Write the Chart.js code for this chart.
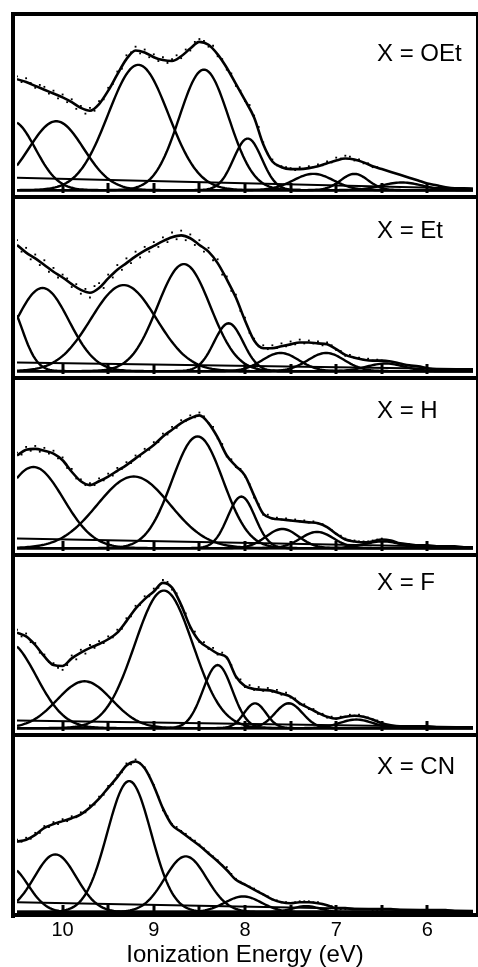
<!DOCTYPE html>
<html><head><meta charset="utf-8">
<script src="https://cdn.jsdelivr.net/npm/chart.js"></script>
<style>
html,body{margin:0;padding:0;background:#fff;width:478px;height:967px;overflow:hidden;}
#wrap{position:relative;width:478px;height:967px;}
#wrap canvas{position:absolute;}
.ln{position:absolute;background:#000;z-index:5;}
.lbl{position:absolute;font-family:"Liberation Sans",Arial,Helvetica,sans-serif;font-size:24px;line-height:24px;color:#000;white-space:nowrap;z-index:6;}
</style></head><body><div id="wrap"></div>
<script>
// ---------------- DATA ----------------
const panelLabels = ['X = OEt', 'X = Et', 'X = H', 'X = F', 'X = CN'];
const tickLabels = [10, 9, 8, 7, 6];
const minorTicks = [10, 9.5, 9, 8.5, 8, 7.5, 7, 6.5, 6];
const axisTitle = 'Ionization Energy (eV)';

// energy grid of the fitted envelope (eV)
const fitEnergies = [10.5,10.4,10.3,10.2,10.1,10.0,9.9,9.8,9.7,9.6,9.5,9.4,9.3,9.2,9.1,9.0,8.9,8.8,8.7,8.6,8.5,8.4,8.3,8.2,8.1,8.0,7.9,7.8,7.7,7.6,7.5,7.4,7.3,7.2,7.1,7.0,6.9,6.8,6.7,6.6,6.5,6.4,6.3,6.2,6.1,6.0,5.9,5.8,5.7,5.6,5.5];
// energy grid of the measured points (eV)
const dotEnergies = [10.5,10.45,10.4,10.35,10.3,10.25,10.2,10.15,10.1,10.05,10.0,9.95,9.9,9.85,9.8,9.75,9.7,9.65,9.6,9.55,9.5,9.45,9.4,9.35,9.3,9.25,9.2,9.15,9.1,9.05,9.0,8.95,8.9,8.85,8.8,8.75,8.7,8.65,8.6,8.55,8.5,8.45,8.4,8.35,8.3,8.25,8.2,8.15,8.1,8.05,8.0,7.95,7.9,7.85,7.8,7.75,7.7,7.65,7.6,7.55,7.5,7.45,7.4,7.35,7.3,7.25,7.2,7.15,7.1,7.05,7.0,6.95,6.9,6.85,6.8,6.75,6.7,6.65,6.6,6.55,6.5];

// fitted envelopes (intensity, arb. units)
const fitOEt = [116,113,109,105,101,97,92,86,83,90,104,121,137,146,144,139,136,135,140,148,155,152,142,128,111,94,76,48,30,24,22,22,23,25,28,31,33,32,29,25,22,19,16,13,10,7,5,3,2,2,1.5];
const fitEt  = [132,124,118,111,104,98,91,85,82,87,97,106,113,120,126,131,136,140,142,139,132,125,113,96,77,53,32,24,24,26,28,30,30,29,28,23,17,14,12,11,11,10,8,6,5,3,2,2,2,2,2];
const fitH   = [97,103,104,102,99,92,80,70,66,70,75,81,87,94,101,108,117,124,131,136,139,131,116,97,86,76,55,36,31,30,29,28,27,26,22,15,9,7,6,7,9,8,5,4,3,3,2,2,2,1,1];
const fitF   = [100,96,87,75,66,65,73,79,84,88,93,100,112,125,135,143,152,147,129,106,91,84,78,74,54,44,41,40,39,36,33,26,21,16,12,10,12,13,12,9,5,3,2,2,2,2,1,1,1,1,1];
const fitCN  = [72,74,79,86,90,93,96,100,107,116,127,138,150,154,147,129,106,89,82,75,68,60,52,43,33,28,23,18,13,10,9,10,10,9,7,4,4,3,3,3,3,3,2,2,2,2,2,2,1,1,1];

// measured points
const dotsOEt = [119,113,117,112,107,110,108,101,104,96,100,92,95,85,88,80,86,83,93,95,107,111,124,127,141,144,150,143,147,139,142,135,139,133,137,141,138,147,146,155,158,156,150,151,140,137,126,122,109,104,93,89,78,66,50,38,32,26,25,24,23,21,24,22,25,24,27,26,30,29,34,33,36,35,31,32,28,28,24,24,22];
const dotsEt  = [137,125,129,117,122,111,116,104,108,98,101,97,88,91,81,86,77,89,92,87,101,98,111,106,118,113,125,119,130,125,135,130,140,135,145,138,147,137,143,132,137,125,129,116,117,101,99,84,80,63,56,40,34,26,27,23,27,24,29,26,31,28,33,29,32,29,31,27,30,27,22,21,16,17,14,14,12,13,11,12,11];
const dotsH   = [100,98,106,102,107,101,105,99,102,94,95,84,83,73,72,66,68,66,73,71,78,76,84,83,90,89,97,96,104,103,111,111,120,119,127,126,134,133,139,137,142,138,131,127,115,109,96,93,85,83,75,67,53,46,35,35,31,32,30,31,29,30,28,29,27,28,26,25,22,19,15,13,10,8,8,7,7,7,8,9,10];
const dotsF   = [103,96,99,90,89,79,77,69,68,63,61,66,76,72,82,78,87,84,91,89,96,95,103,104,115,117,128,129,138,138,146,147,155,153,145,141,128,120,105,101,90,90,83,84,77,79,73,66,53,51,43,45,40,43,39,42,38,40,35,37,32,31,25,25,20,20,15,15,11,12,10,12,12,14,13,14,12,11,9,8,5];
const dotsCN  = [74,72,76,75,81,81,88,87,92,90,95,93,98,97,102,102,109,110,118,120,129,131,140,143,152,151,156,152,148,140,130,118,104,98,90,87,83,80,76,73,69,65,61,57,53,48,46,39,34,31,28,26,24,21,18,16,13,12,10,10,9,10,11,11,11,10,10,8,7,6,4,3,3,3,3,3,3,3,2,2,2];

// Gaussian fit components: centre (eV), height, width sigma (eV)
const centersOEt = [10.55, 10.07, 9.17, 8.45, 7.97, 7.25, 6.80, 6.28];
const heightsOEt = [72, 72, 131, 126, 54, 17, 17, 8];
const widthsOEt  = [0.25, 0.30, 0.33, 0.27, 0.155, 0.22, 0.15, 0.22];
const centersEt  = [10.62, 10.22, 9.33, 8.67, 8.18, 7.61, 7.11, 6.46];
const heightsEt  = [75, 87, 90, 112, 50, 19, 19, 8];
const widthsEt   = [0.17, 0.29, 0.36, 0.29, 0.16, 0.20, 0.20, 0.20];
const centersH   = [10.32, 9.22, 8.52, 8.04, 7.59, 7.21, 6.49];
const heightsH   = [85, 75, 117, 54, 20, 17, 7];
const widthsH    = [0.33, 0.40, 0.28, 0.15, 0.18, 0.18, 0.20];
const centersF   = [10.60, 9.76, 8.89, 8.30, 7.89, 7.52, 6.78];
const heightsF   = [90, 49, 144, 66, 26, 26, 9];
const widthsF    = [0.31, 0.30, 0.32, 0.16, 0.12, 0.15, 0.18];
const centersCN  = [10.58, 10.08, 9.27, 8.65, 8.02, 7.33];
const heightsCN  = [46, 59, 134, 57, 16, 6];
const widthsCN   = [0.20, 0.23, 0.24, 0.23, 0.20, 0.15];

// linear background: value at 10.5 eV and at 5.5 eV
const baseOEt = [13, 1.5];
const baseEt  = [9, 2];
const baseH   = [10, 1];
const baseF   = [8, 1];
const baseCN  = [10, 1];

// ---------------- LAYOUT ----------------
const FONT = '"Liberation Sans", Arial, Helvetica, sans-serif';
const panels = [
  {label: panelLabels[0], top: 14,  h: 183, labelTop: 41,  fit: fitOEt, dots: dotsOEt, c: centersOEt, a: heightsOEt, s: widthsOEt, base: baseOEt},
  {label: panelLabels[1], top: 197, h: 181, labelTop: 218, fit: fitEt,  dots: dotsEt,  c: centersEt,  a: heightsEt,  s: widthsEt,  base: baseEt},
  {label: panelLabels[2], top: 378, h: 177, labelTop: 398, fit: fitH,   dots: dotsH,   c: centersH,   a: heightsH,   s: widthsH,   base: baseH},
  {label: panelLabels[3], top: 555, h: 180, labelTop: 570, fit: fitF,   dots: dotsF,   c: centersF,   a: heightsF,   s: widthsF,   base: baseF},
  {label: panelLabels[4], top: 735, h: 180, labelTop: 754, fit: fitCN,  dots: dotsCN,  c: centersCN,  a: heightsCN,  s: widthsCN,  base: baseCN}
];
const AXIS_H = 52;
const wrap = document.getElementById('wrap');

function addLine(l, t, w, h) {
  const d = document.createElement('div');
  d.className = 'ln';
  d.style.cssText = `left:${l}px;top:${t}px;width:${w}px;height:${h}px;`;
  wrap.appendChild(d);
}
addLine(11, 12, 467, 4);      // top
addLine(11, 12, 4, 906);      // left
addLine(476, 12, 2, 905);     // right
[197, 378, 555, 735, 915].forEach(y => addLine(11, y - 2, 467, 4));

const innerTicks = {
  id: 'innerTicks',
  afterDatasetsDraw(chart) {
    const {ctx, chartArea, scales} = chart;
    const x = scales.x;
    ctx.save();
    ctx.strokeStyle = '#000';
    ctx.lineWidth = 3;
    minorTicks.forEach(v => {
      const px = Math.round(x.getPixelForValue(v));
      ctx.beginPath();
      ctx.moveTo(px, chartArea.bottom);
      ctx.lineTo(px, chartArea.bottom - 10);
      ctx.stroke();
    });
    ctx.restore();
  }
};

function gauss(c, a, s) {
  const pts = [];
  for (let i = 0; i <= 250; i++) {
    const e = 10.5 - i * 0.02;
    pts.push({x: e, y: a * Math.exp(-(e - c) * (e - c) / (2 * s * s))});
  }
  return pts;
}

panels.forEach((p, idx) => {
  const last = idx === panels.length - 1;
  const cv = document.createElement('canvas');
  const ch = last ? p.h + AXIS_H : p.h;
  cv.width = 464; cv.height = ch;
  cv.style.cssText = `left:13px;top:${p.top}px;width:464px;height:${ch}px;`;
  wrap.appendChild(cv);

  const lw = 2.4;
  const datasets = [];
  datasets.push({data: [{x: 10.5, y: p.base[0]}, {x: 5.5, y: p.base[1]}], borderColor: '#000', borderWidth: 2, pointRadius: 0, fill: false});
  p.c.forEach((c, k) => {
    datasets.push({data: gauss(c, p.a[k], p.s[k]), borderColor: '#000', borderWidth: lw, pointRadius: 0, fill: false, tension: 0});
  });
  datasets.push({data: fitEnergies.map((e, k) => ({x: e, y: p.fit[k]})), borderColor: '#000', borderWidth: 2.6, pointRadius: 0, fill: false, cubicInterpolationMode: 'monotone'});
  datasets.push({data: dotEnergies.map((e, k) => ({x: e, y: p.dots[k]})), showLine: false, pointRadius: 1.3, pointStyle: 'rect', pointBackgroundColor: '#000', pointBorderWidth: 0, borderColor: '#000'});

  const xScale = {
    type: 'linear', reverse: true, min: 5.5, max: 10.5, display: last,
    grid: {display: false, drawTicks: false},
    border: {display: false},
    afterBuildTicks: sc => { sc.ticks = tickLabels.map(v => ({value: v})); },
    ticks: {color: '#000', padding: 3, maxRotation: 0, autoSkip: false, font: {family: FONT, size: 20, lineHeight: 1.2}},
    title: {display: true, text: axisTitle, color: '#000', padding: 0, font: {family: FONT, size: 24, lineHeight: 1}}
  };
  if (last) xScale.afterFit = sc => { sc.height = AXIS_H; };

  new Chart(cv, {
    type: 'line',
    data: {datasets},
    options: {
      responsive: false, animation: false, events: [], devicePixelRatio: 1,
      layout: {padding: 0},
      plugins: {legend: {display: false}, tooltip: {enabled: false}},
      scales: {
        x: xScale,
        y: {min: -3, max: p.h - 3, display: false}
      }
    },
    plugins: [innerTicks]
  });

  const lb = document.createElement('div');
  lb.className = 'lbl';
  lb.style.left = '377px';
  lb.style.top = p.labelTop + 'px';
  lb.textContent = p.label;
  wrap.appendChild(lb);
});
</script>
</body></html>
